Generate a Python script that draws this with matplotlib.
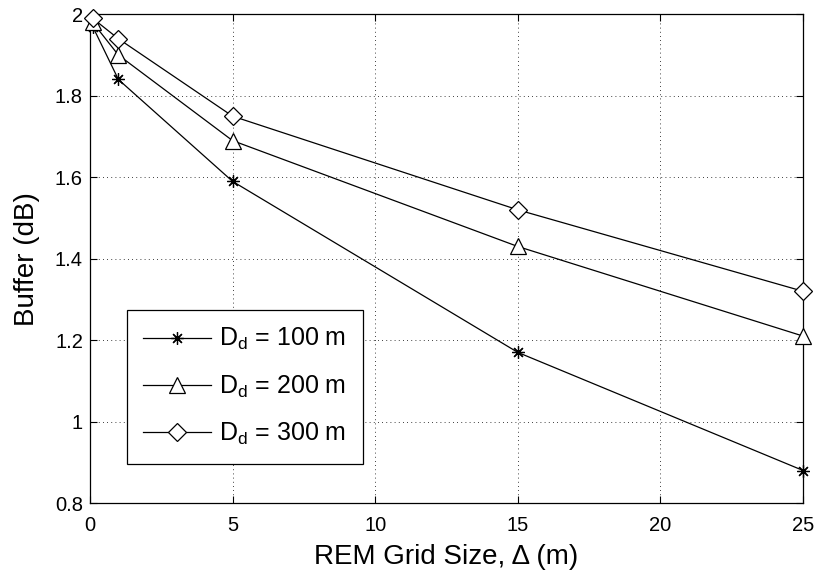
import matplotlib
matplotlib.use("Agg")
import matplotlib.pyplot as plt

plt.rcParams['font.family'] = ['Liberation Sans', 'DejaVu Sans']
plt.rcParams['mathtext.fontset'] = 'custom'
plt.rcParams['mathtext.rm'] = 'Liberation Sans'
plt.rcParams['mathtext.it'] = 'Liberation Sans:italic'

x = [0.1, 1, 5, 15, 25]
buf_100 = [1.97, 1.84, 1.59, 1.17, 0.88]
buf_200 = [1.98, 1.90, 1.69, 1.43, 1.21]
buf_300 = [1.99, 1.94, 1.75, 1.52, 1.32]
labels = [r'$\mathrm{D}_\mathrm{d}$ = 100 m', r'$\mathrm{D}_\mathrm{d}$ = 200 m', r'$\mathrm{D}_\mathrm{d}$ = 300 m']
xticks = [0, 5, 10, 15, 20, 25]
yticks = [0.8, 1, 1.2, 1.4, 1.6, 1.8, 2]
ytick_labels = ['0.8', '1', '1.2', '1.4', '1.6', '1.8', '2']

fig = plt.figure(figsize=(8.17, 5.73), dpi=100)
ax = fig.add_axes([0.110, 0.122, 0.873, 0.853])

ax.plot(x, buf_100, color='black', lw=0.9, marker=(8, 2, 0), ms=9, mew=0.9, label=labels[0], clip_on=False, zorder=3)
ax.plot(x, buf_200, color='black', lw=0.9, marker='^', ms=11, mfc='white', mew=0.9, label=labels[1], clip_on=False, zorder=3)
ax.plot(x, buf_300, color='black', lw=0.9, marker='D', ms=9, mfc='white', mew=0.9, label=labels[2], clip_on=False, zorder=3)

ax.set_xlim(0, 25)
ax.set_ylim(0.8, 2)
ax.set_xticks(xticks)
ax.set_yticks(yticks)
ax.set_yticklabels(ytick_labels)
ax.tick_params(direction='in', top=True, right=True, labelsize=14.5, length=5, width=0.8)
ax.tick_params(axis='y', pad=5)
ax.tick_params(axis='x', pad=9.5)
ax.grid(True, linestyle=(0, (1, 4)), color='black', linewidth=0.6)
for s in ax.spines.values():
    s.set_linewidth(0.9)

ax.set_xlabel('REM Grid Size, Δ (m)', fontsize=20, labelpad=6.5)
ax.set_ylabel('Buffer (dB)', fontsize=20)
ax.yaxis.set_label_coords(-0.070, 0.5)

leg = ax.legend(loc='upper left', bbox_to_anchor=(0.052, 0.395), fontsize=18, frameon=True,
                fancybox=False, edgecolor='black', framealpha=1, handlelength=2.7,
                handletextpad=0.35, borderpad=0.65, labelspacing=0.85, borderaxespad=0.0)
leg.get_frame().set_linewidth(0.9)
leg.set_zorder(5)

fig.savefig('out.png', dpi=100)
